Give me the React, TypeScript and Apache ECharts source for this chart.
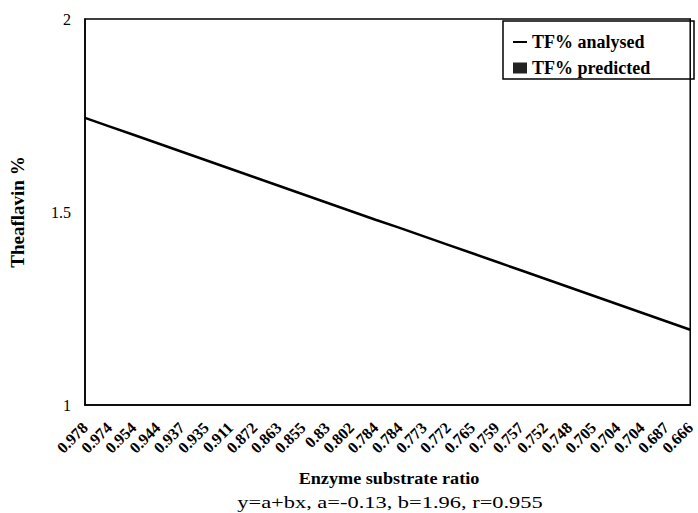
import React, { useEffect, useRef } from "react";
import * as echarts from "echarts";

const categories = ["0.978","0.974","0.954","0.944","0.937","0.935","0.911","0.872","0.863","0.855","0.83","0.802","0.784","0.784","0.773","0.772","0.765","0.759","0.757","0.752","0.748","0.705","0.704","0.704","0.687","0.666"];
const analysed = [1.744,1.722,1.700,1.678,1.656,1.634,1.612,1.590,1.568,1.546,1.524,1.502,1.480,1.459,1.437,1.415,1.393,1.371,1.349,1.327,1.305,1.283,1.261,1.239,1.217,1.195];
const predicted: number[] = [];
const xTitle = "Enzyme substrate ratio";
const yTitle = "Theaflavin %";
const equation = "y=a+bx, a=-0.13, b=1.96, r=0.955";

const FONT = "Liberation Serif";

export default function App() {
  const ref = useRef<HTMLDivElement>(null);
  useEffect(() => {
    if (!ref.current) return;
    const chart = echarts.init(ref.current, undefined, { renderer: "svg" });
    chart.setOption({
      animation: false,
      backgroundColor: "#fff",
      textStyle: { fontFamily: FONT },
      grid: { left: 84, right: 3, top: 19, bottom: 108, show: true, borderColor: "#000", borderWidth: 1.5, containLabel: false },
      legend: {
        left: 508, top: 28, orient: "vertical", itemGap: 8, itemWidth: 14, itemHeight: 11,
        textStyle: { fontFamily: FONT, fontSize: 18, fontWeight: "bold", color: "#000" },
        data: [
          { name: "TF% analysed", icon: "path://M0 0 H14 V2 H0 Z" },
          { name: "TF% predicted", icon: "rect" },
        ],
      },
      xAxis: {
        type: "category", data: categories, boundaryGap: false,
        axisLine: { lineStyle: { color: "#000", width: 1.5 } },
        axisTick: { show: false },
        axisLabel: { rotate: 45, interval: 0, margin: 20, fontFamily: FONT, fontSize: 16, fontWeight: "bold", color: "#000" },
      },
      yAxis: {
        type: "value", min: 1, max: 2, interval: 0.5,
        name: yTitle, nameLocation: "middle", nameGap: 58, nameRotate: 90,
        nameTextStyle: { fontFamily: FONT, fontSize: 19, fontWeight: "bold", color: "#000" },
        axisLine: { show: true, lineStyle: { color: "#000", width: 1.5 } },
        axisTick: { show: false },
        splitLine: { show: false },
        axisLabel: { margin: 14, fontFamily: FONT, fontSize: 16, color: "#000" },
      },
      graphic: [
        { type: "rect", shape: { x: 503, y: 21, width: 191, height: 58 }, style: { fill: "none", stroke: "#000", lineWidth: 1.5 }, z: 10 },
        { type: "text", x: 389, y: 478, scaleX: 1.07, style: { text: xTitle, fontFamily: FONT, fontSize: 17, fontWeight: "bold", fill: "#000", textAlign: "center", textVerticalAlign: "middle" } },
        { type: "text", x: 390, y: 502, scaleX: 1.32, style: { text: equation, fontFamily: FONT, fontSize: 17, fill: "#000", textAlign: "center", textVerticalAlign: "middle" } },
      ],
      series: [
        { name: "TF% analysed", type: "line", data: analysed, symbol: "none", lineStyle: { color: "#000", width: 2.5 }, itemStyle: { color: "#000" } },
        { name: "TF% predicted", type: "bar", data: predicted, itemStyle: { color: "#222" } },
      ],
    });
    return () => chart.dispose();
  }, []);
  return <div ref={ref} style={{ width: 698, height: 513, position: "absolute", left: 0, top: 0 }} />;
}
